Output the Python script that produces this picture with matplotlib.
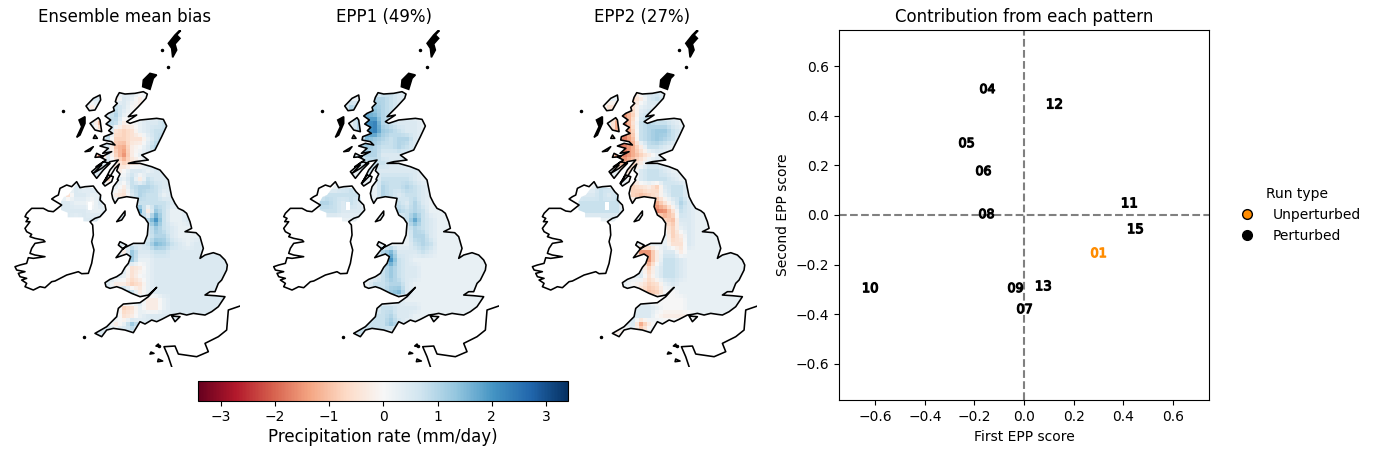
import numpy as np
import matplotlib
matplotlib.use("Agg")
import matplotlib.pyplot as plt
from matplotlib.path import Path
from matplotlib.patches import PathPatch, Rectangle, Polygon
from matplotlib.cm import ScalarMappable
from matplotlib.colors import Normalize
from matplotlib.lines import Line2D

W, H = 1376, 454
VMAX = 3.41
TITLES = ["Ensemble mean bias", "EPP1 (49%)", "EPP2 (27%)"]


def shift(points, dx, dy):
    return [(x + dx, y + dy) for x, y in points]


# Coastlines in map units, traced in three sheets with their own origin
GB_NORTH_WEST = [(178,218),(170,232),(166,245),(172,250),(160,262),(163,272),(145,280),(135,288),(152,300),(138,312),(156,322),(146,332),(158,340),(132,350),(130,360),(155,365),(165,375),(140,370),(120,378),(145,385),(128,400),(155,395),(122,412),(138,420),(108,440),(125,435),(100,460),(125,445),(150,425),(175,420),(150,450),(140,470),(130,490),(150,470),(165,445),(178,432),(170,452),(180,462),(172,478)]
GB_SOUTH = [(85,0),(70,20),(65,40),(68,55),(75,70),(85,55),(110,50),(145,55),(140,80),(150,105),(165,115),(175,130),(172,165),(162,190),(130,190),(100,205),(78,233),(110,222),(122,230),(115,250),(105,262),(95,280),(80,290),(60,298),(45,308),(48,320),(60,325),(80,320),(95,325),(125,340),(150,350),(175,345),(200,322),(175,350),(150,368),(100,372),(85,385),(80,410),(50,440),(15,460),(25,465),(35,470),(50,450),(70,445),(105,450),(130,458),(150,425),(165,432),(185,420),(200,425),(215,418),(240,405),(255,403),(270,400),(290,405),(310,400),(330,403),(345,405),(365,395),(385,380),(395,365),(405,350),(375,347),(345,345),(360,335),(375,335),(385,310),(395,300),(400,290),(410,270),(412,255),(405,240),(390,225),(370,218),(345,225),(330,235),(340,205),(330,170),(318,158),(285,155),(305,145),(300,125),(290,100),(280,92),(265,85),(255,70),(245,50),(240,25),(235,0)]
GB_NORTH_EAST = [(300,450),(275,440),(240,430),(205,430),(225,425),(265,420),(245,405),(285,390),(305,350),(320,318),(310,298),(290,295),(240,300),(210,310),(200,305),(230,285),(205,290),(235,260),(258,235),(262,222),(250,215),(225,220),(195,222)]
GREAT_BRITAIN = shift(GB_NORTH_WEST, 180, 0) + shift(GB_SOUTH, 270, 480) + shift(GB_NORTH_EAST, 180, 0)
IRELAND = shift([(150,40),(170,30),(185,35),(200,20),(210,38),(225,35),(250,33),(262,50),(272,60),(270,75),(285,90),(288,105),(270,125),(255,130),(240,140),(248,150),(250,180),(245,200),(252,225),(245,265),(235,295),(215,296),(205,290),(170,300),(135,318),(125,320),(105,338),(90,335),(70,345),(45,335),(50,325),(35,315),(50,310),(30,305),(25,295),(45,290),(20,285),(15,275),(30,270),(50,265),(55,248),(70,250),(105,245),(75,240),(60,235),(65,220),(75,205),(105,200),(100,195),(75,190),(60,185),(65,178),(50,170),(45,160),(60,140),(48,140),(55,130),(45,125),(50,115),(65,100),(100,100),(115,108),(130,110),(155,90),(125,72),(135,65),(145,60)], 30, 465)
SOLID_ISLANDS = [shift(p, 180, 0) for p in [
    [(358,32),(345,45),(325,70),(335,85),(338,112),(350,90),(345,72),(360,55),(350,45),(362,32)],
    [(290,165),(270,160),(250,180),(248,200),(270,208),(280,175)],
    [(75,290),(57,300),(65,320),(50,352),(60,345),(75,310)],
]]
ISLANDS = [shift(p, 180, 0) for p in [
    [(120,225),(100,235),(78,258),(88,272),(105,270),(122,240)],
    [(115,293),(90,310),(105,330),(125,335),(120,300)],
    [(100,380),(75,395),(90,393)],
    [(105,345),(100,355),(112,355)],
    [(110,400),(130,410),(105,412)],
    [(130,425),(95,455),(110,475),(130,450),(150,430)],
    [(145,465),(128,490),(135,498),(155,485),(160,470)],
]] + [
    shift(p, 30, 465) for p in [
        [(345,108),(320,140),(335,135),(345,120)],
        [(330,200),(325,210),(340,222),(350,210)],
    ]
] + [
    shift(p, 270, 480) for p in [
        [(245,408),(255,425),(270,410)],
        [(205,492),(198,498),(208,500)],
        [(183,516),(180,522),(192,520)],
        [(205,537),(203,545),(218,543)],
    ]
]
SPECKS = [(485,90),(505,142),(190,273),(252,952),(478,977)]
FRANCE = shift([(450,378),(415,390),(410,450),(385,470),(345,490),(355,515),(320,530),(265,522),(255,498),(222,500),(235,530),(245,560)], 270, 480)
NI_FIELD = [(232,489),(245,500),(285,505),(305,530),(310,555),(318,575),(290,605),(275,605),(250,604),(250,592),(203,592),(203,578),(183,570),(183,545),(192,530),(205,525)]

# Precipitation fields on a coarse map grid: digits are +0.25 steps, letters -0.25 steps
MEAN_BIAS = ["222222221211","2222222a21a1","2222a22320a1","22222a24100112","22222d43a0122322","22222a5bcb1233","2222223ccbb1342","2222222dea0243","22222g2cfa12","2222222acba22","2222222b02212","222222c213a32","22212221a34432","2b22112ab24331","221102022233332","22221122227a5311","22122212223483112","222222222222532112","222222222222442111","22222222222365321","22222222a522332","22222222251122","222222222ba12","222222221b012","2222222aacb12","2222222263a1","22222222222aa12","22222222cb1aa1","22222222ba12","2222222a152","222222223"]
EPP1 = ["1111111123221","111111144322","11114355432","111144764322","11111489432221","11111489543221","11111165434421","1111135433432","111113442222","111111333221","1111113222222","11111111333321","11123111433432","133333214323321","443232111132421","333222111143431","1111111111137321","111111111112432","111111111111442","111111111111343","111111114622232","1111111148321","11111111353221","1111111135322","111111133442","111111133562","11111111112","1111111133222","111111133422","11111233353","111113333"]
EPP2 = ["1111111b1221","1111111ca232","1111bbdb121","11111cfc2321","11111egb343321","11111egc345532","11111fgd345431","11111ggea3321","11111fgeca1","11111deca221","111111ca23321","1111111a233321","1113311cbac2331","1223231cdcb1331","3333331111eb142","3333331111gfb321","11111111111cd221","11111111111ac12","111111111111ca21","111111111111bb21","11111111ffa22a1","11111111bfa3321","111111111c1332","111111112b1332","11111110acb121","11111111bdc00","11111111110000","11111111221000","11111112220aaaa","11111112ea1","11111a01b"]
PANEL_FIELDS = [MEAN_BIAS, EPP1, EPP2]
FIELD_PAD = ["2", "1", "1"]

# Scores for each ensemble member
RUNS = ["04","12","05","06","08","11","15","01","10","09","13","07"]
SCORE1 = [-0.148,0.120,-0.234,-0.165,-0.153,0.423,0.446,0.297,-0.621,-0.035,0.077,0.000]
SCORE2 = [0.511,0.453,0.296,0.181,0.009,0.052,-0.054,-0.149,-0.292,-0.290,-0.284,-0.374]
UNPERTURBED = "01"


def decode(rows, pad):
    out = []
    for row in rows + [pad]:
        row = row.ljust(22, pad)
        out.append([int(c) * 0.25 if c.isdigit() else -(ord(c) - 96) * 0.25 for c in row])
    arr = np.kron(np.array(out), np.ones((2, 2)))
    return 0.25 * (arr[:-1, :-1] + arr[1:, :-1] + arr[:-1, 1:] + arr[1:, 1:])


def poly_path(polys):
    verts, codes = [], []
    for p in polys:
        verts += list(p) + [p[0]]
        codes += [Path.MOVETO] + [Path.LINETO] * (len(p) - 1) + [Path.CLOSEPOLY]
    return Path(verts, codes)


def px_axes(fig, l, t, r, b):
    return fig.add_axes([l / W, 1 - b / H, (r - l) / W, (b - t) / H])


fig = plt.figure(figsize=(W / 100, H / 100), dpi=100)
norm = Normalize(-VMAX, VMAX)
land = poly_path([GREAT_BRITAIN, NI_FIELD] + ISLANDS)
coast = poly_path([GREAT_BRITAIN, IRELAND] + ISLANDS)

for i, title in enumerate(TITLES):
    off = 258.7 * i
    ax = px_axes(fig, 10 + off, 30, 240 + off, 366.7)
    im = ax.imshow(decode(PANEL_FIELDS[i], FIELD_PAD[i]), cmap="RdBu", norm=norm,
                   extent=(174, 690, 966, 210), interpolation="nearest", aspect="auto")
    im.set_clip_path(land, transform=ax.transData)
    ax.add_patch(Rectangle((263, 545), 12, 24, fc="white", ec="none"))
    ax.add_patch(PathPatch(coast, fc="none", ec="black", lw=1.15, joinstyle="round"))
    for poly in SOLID_ISLANDS:
        ax.add_patch(Polygon(poly, fc="black", ec="black", lw=1.15))
    ax.plot(*zip(*FRANCE), color="black", lw=1.15)
    ax.plot(*zip(*SPECKS), ls="none", marker="o", ms=1.5, color="black")
    ax.set_xlim(30, 720)
    ax.set_ylim(1040, 30)
    ax.set_axis_off()
    ax.set_title(title, fontsize=12)

cax = px_axes(fig, 198.3, 381, 568.3, 400.5)
cb = fig.colorbar(ScalarMappable(norm=norm, cmap="RdBu"), cax=cax, orientation="horizontal")
cb.set_ticks([-3, -2, -1, 0, 1, 2, 3])
cb.set_label("Precipitation rate (mm/day)", fontsize=12, labelpad=3)

ax = px_axes(fig, 839, 30, 1209, 400)
ax.axhline(0, color="gray", ls="--")
ax.axvline(0, color="gray", ls="--")
for run, x, y in zip(RUNS, SCORE1, SCORE2):
    ax.scatter([x], [y], marker=f"${run}$", s=105, linewidths=0.9,
               color="darkorange" if run == UNPERTURBED else "black", zorder=3)
ax.set_xlim(-0.746, 0.746)
ax.set_ylim(-0.746, 0.746)
ax.set_xticks([-0.6, -0.4, -0.2, 0, 0.2, 0.4, 0.6])
ax.set_yticks([-0.6, -0.4, -0.2, 0, 0.2, 0.4, 0.6])
ax.set_xlabel("First EPP score", labelpad=4.5)
ax.set_ylabel("Second EPP score")
ax.set_title("Contribution from each pattern", fontsize=12)

handles = [Line2D([], [], ls="none", marker="o", ms=7, mfc=c, mec="black", mew=1.0) for c in ("darkorange", "black")]
fig.legend(handles, ["Unperturbed", "Perturbed"], title="Run type", frameon=False,
           loc="center left", bbox_to_anchor=(1228 / W, 1 - 215 / H), borderaxespad=0, fontsize=10)

fig.savefig("out.png", dpi=100)
